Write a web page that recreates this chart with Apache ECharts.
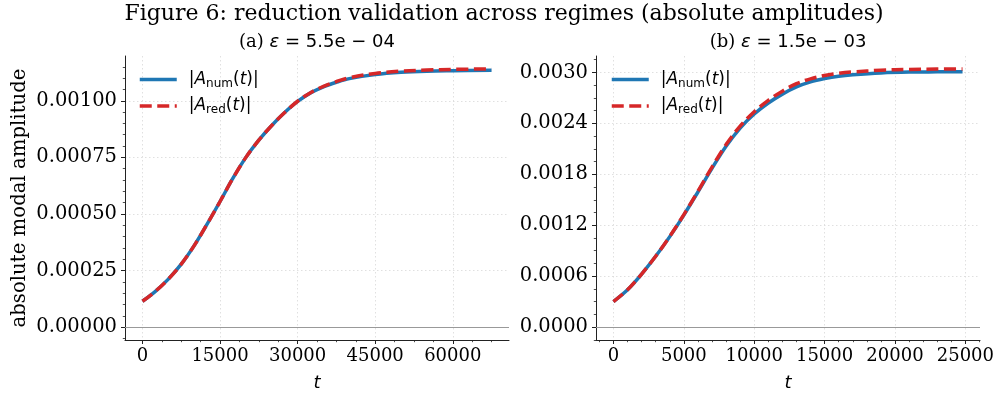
<!DOCTYPE html>
<html><head><meta charset="utf-8">
<script src="https://cdn.jsdelivr.net/npm/echarts@6/dist/echarts.min.js"></script>
<style>html,body{margin:0;padding:0;background:#fff}#c{width:999px;height:394px}</style>
</head><body><div id="c"></div>
<script>
// Panel (a): eps = 5.5e-04
const tA = [0, 2500, 5000, 7500, 10000, 12500, 15000, 17500, 20000, 22500, 25000, 27500, 30000, 32500, 35000, 37500, 40000, 45000, 50000, 55000, 60000, 67500];
const numA = [0.000114, 0.000158, 0.000212, 0.000278, 0.000360, 0.000455, 0.000555, 0.000658, 0.000750, 0.000826, 0.000891, 0.000948, 0.000997, 0.001035, 0.001062, 0.001082, 0.001098, 0.001116, 0.001126, 0.001131, 0.001133, 0.001135];
const redA = [0.000114, 0.000158, 0.000212, 0.000278, 0.000360, 0.000455, 0.000555, 0.000658, 0.000750, 0.000826, 0.000891, 0.000948, 0.000998, 0.001036, 0.001064, 0.001085, 0.001102, 0.001121, 0.001131, 0.001136, 0.001139, 0.001141];
// Panel (b): eps = 1.5e-03
const tB = [0, 1000, 2000, 3000, 4000, 5000, 6000, 7000, 8000, 9000, 10000, 11000, 12000, 13000, 14000, 15000, 16000, 17000, 19000, 21000, 23000, 24800];
const numB = [0.000301, 0.000440, 0.000625, 0.000834, 0.001066, 0.001320, 0.001592, 0.001870, 0.002130, 0.002345, 0.002510, 0.002640, 0.002745, 0.002830, 0.002889, 0.002928, 0.002956, 0.002973, 0.002995, 0.003005, 0.003007, 0.003008];
const redB = [0.000301, 0.000440, 0.000625, 0.000835, 0.001068, 0.001325, 0.001600, 0.001885, 0.002150, 0.002368, 0.002537, 0.002672, 0.002780, 0.002868, 0.002925, 0.002965, 0.002990, 0.003006, 0.003026, 0.003036, 0.003040, 0.003042];

// tick values
const xTicksA = [0, 15000, 30000, 45000, 60000];
const xMinorA = [0, 3750, 7500, 11250, 15000, 18750, 22500, 26250, 30000, 33750, 37500, 41250, 45000, 48750, 52500, 56250, 60000, 63750, 67500];
const yTicksA = [0, 0.00025, 0.0005, 0.00075, 0.001];
const yMinorA = [-0.00005, 0, 0.00005, 0.0001, 0.00015, 0.0002, 0.00025, 0.0003, 0.00035, 0.0004, 0.00045, 0.0005, 0.00055, 0.0006, 0.00065, 0.0007, 0.00075, 0.0008, 0.00085, 0.0009, 0.00095, 0.001, 0.00105, 0.0011, 0.00115];
const xTicksB = [0, 5000, 10000, 15000, 20000, 25000];
const xMinorB = [-1000, 0, 1000, 2000, 3000, 4000, 5000, 6000, 7000, 8000, 9000, 10000, 11000, 12000, 13000, 14000, 15000, 16000, 17000, 18000, 19000, 20000, 21000, 22000, 23000, 24000, 25000, 26000];
const yTicksB = [0, 0.0006, 0.0012, 0.0018, 0.0024, 0.003];
const yMinorB = [-0.00015, 0, 0.00015, 0.0003, 0.00045, 0.0006, 0.00075, 0.0009, 0.00105, 0.0012, 0.00135, 0.0015, 0.00165, 0.0018, 0.00195, 0.0021, 0.00225, 0.0024, 0.00255, 0.0027, 0.00285, 0.003, 0.00315];

const chart = echarts.init(document.getElementById('c'), null, {renderer: 'canvas'});
const BLUE = '#1f77b4', RED = '#d62728', SPINE = '#222';
const serif = 'DejaVu Serif', sans = 'DejaVu Sans';

function mainX(grid, min, max, ticks) {
  return {
    type: 'value', gridIndex: grid, min: min, max: max, position: 'bottom',
    axisLine: {onZero: false, lineStyle: {color: SPINE, width: 1}},
    axisTick: {customValues: ticks, length: 4, lineStyle: {color: SPINE, width: 1}},
    axisLabel: {customValues: ticks, fontFamily: serif, fontSize: 18, color: '#000', margin: 7,
      formatter: v => String(Math.round(v))},
    splitLine: {show: true, lineStyle: {color: '#d8d8d8', type: [1.5, 2.5], width: 0.8}},
    name: 't', nameLocation: 'middle', nameGap: 34,
    nameTextStyle: {fontFamily: sans, fontStyle: 'italic', fontSize: 18, color: '#000'}
  };
}
function minorX(grid, min, max, ticks) {
  return {
    type: 'value', gridIndex: grid, min: min, max: max, position: 'bottom', offset: 0,
    axisLine: {show: false, onZero: false},
    axisTick: {customValues: ticks, length: 2.2, lineStyle: {color: SPINE, width: 0.8}},
    axisLabel: {show: false}, splitLine: {show: false}
  };
}
function mainY(grid, min, max, ticks, dec, name) {
  const o = {
    type: 'value', gridIndex: grid, min: min, max: max, position: 'left',
    axisLine: {show: true, onZero: false, lineStyle: {color: SPINE, width: 1}},
    axisTick: {show: true, customValues: ticks, length: 4, lineStyle: {color: SPINE, width: 1}},
    axisLabel: {customValues: ticks, fontFamily: serif, fontSize: 19.5, color: '#000', margin: 8,
      formatter: v => v.toFixed(dec)},
    splitLine: {show: true, lineStyle: {color: '#d8d8d8', type: [1.5, 2.5], width: 0.8}}
  };
  if (name) {
    o.name = name; o.nameLocation = 'middle'; o.nameGap = 95;
    o.nameTextStyle = {fontFamily: serif, fontSize: 19.7, color: '#000'};
  }
  return o;
}
function minorY(grid, min, max, ticks) {
  return {
    type: 'value', gridIndex: grid, min: min, max: max, position: 'left', offset: 0,
    axisLine: {show: false, onZero: false},
    axisTick: {show: true, customValues: ticks, length: 2.2, lineStyle: {color: SPINE, width: 0.8}},
    axisLabel: {show: false}, splitLine: {show: false}
  };
}
const zeroLine = {silent: true, symbol: 'none', label: {show: false},
  lineStyle: {color: '#999', type: 'solid', width: 1.1}, data: [{yAxis: 0}]};

function pairs(t, v) { return t.map((x, i) => [x, v[i]]); }

const legendText = {
  fontFamily: sans, fontSize: 17, color: '#000', padding: [0, 0, 0, 7],
  rich: {
    i: {fontFamily: sans, fontStyle: 'italic', fontSize: 17, color: '#000'},
    s: {fontFamily: sans, fontSize: 12, color: '#000', padding: [8, 0, 0, 0]}
  }
};
const legendFmt = n => n === 'num' ? '|{i|A}{s|num}({i|t})|' : '|{i|A}{s|red}({i|t})|';

function sub(text, x) {
  return {text: text, left: x, top: 33, textAlign: 'center', padding: 0,
    textStyle: {fontWeight: 'normal', rich: {
      s: {fontFamily: serif, fontSize: 18, fontWeight: 'normal', color: '#000'},
      e: {fontFamily: sans, fontStyle: 'italic', fontWeight: 'normal', fontSize: 18, color: '#000'},
      m: {fontFamily: sans, fontSize: 18, fontWeight: 'normal', color: '#000'}
    }}};
}
function legend(x) {
  return {data: ['num', 'red'], orient: 'vertical', left: x, top: 71, itemWidth: 37, itemHeight: 14,
    itemGap: 8, padding: 0, textStyle: legendText, formatter: legendFmt,
    itemStyle: {opacity: 0}, lineStyle: {width: 3.5}};
}

const option = {
  backgroundColor: '#fff',
  animation: false,
  title: [
    {text: 'Figure 6: reduction validation across regimes (absolute amplitudes)', left: 504, top: 3,
      textAlign: 'center', padding: 0,
      textStyle: {fontFamily: serif, fontSize: 22, fontWeight: 'normal', color: '#000'}},
    sub('{s|(a) }{e|\u03b5}{m| = 5.5e \u2212 04}', 317),
    sub('{s|(b) }{e|\u03b5}{m| = 1.5e \u2212 03}', 788)
  ],
  legend: [legend(138), legend(610)],
  grid: [
    {left: 125, top: 56, width: 384, height: 284, outerBoundsMode: 'none', containLabel: false},
    {left: 596, top: 56, width: 384, height: 284, outerBoundsMode: 'none', containLabel: false}
  ],
  xAxis: [
    mainX(0, -3375, 70875, xTicksA),
    minorX(0, -3375, 70875, xMinorA),
    mainX(1, -1240, 26040, xTicksB),
    minorX(1, -1240, 26040, xMinorB)
  ],
  yAxis: [
    mainY(0, -0.0000571, 0.001198, yTicksA, 5, 'absolute modal amplitude'),
    minorY(0, -0.0000571, 0.001198, yMinorA),
    mainY(1, -0.000152, 0.003194, yTicksB, 4, null),
    minorY(1, -0.000152, 0.003194, yMinorB)
  ],
  series: [
    {name: 'num', type: 'line', xAxisIndex: 0, yAxisIndex: 0, data: pairs(tA, numA), symbol: 'none',
      smooth: 0.35, lineStyle: {color: BLUE, width: 3.5}, itemStyle: {color: BLUE},
      markLine: zeroLine, z: 2},
    {name: 'red', type: 'line', xAxisIndex: 0, yAxisIndex: 0, data: pairs(tA, redA), symbol: 'none',
      smooth: 0.35, lineStyle: {color: RED, width: 3.5, type: [12, 5.5]}, itemStyle: {color: RED}, z: 3},
    {name: 'num', type: 'line', xAxisIndex: 2, yAxisIndex: 2, data: pairs(tB, numB), symbol: 'none',
      smooth: 0.35, lineStyle: {color: BLUE, width: 3.5}, itemStyle: {color: BLUE},
      markLine: zeroLine, z: 2},
    {name: 'red', type: 'line', xAxisIndex: 2, yAxisIndex: 2, data: pairs(tB, redB), symbol: 'none',
      smooth: 0.35, lineStyle: {color: RED, width: 3.5, type: [12, 5.5]}, itemStyle: {color: RED}, z: 3}
  ]
};
chart.setOption(option);
</script>
</body></html>
